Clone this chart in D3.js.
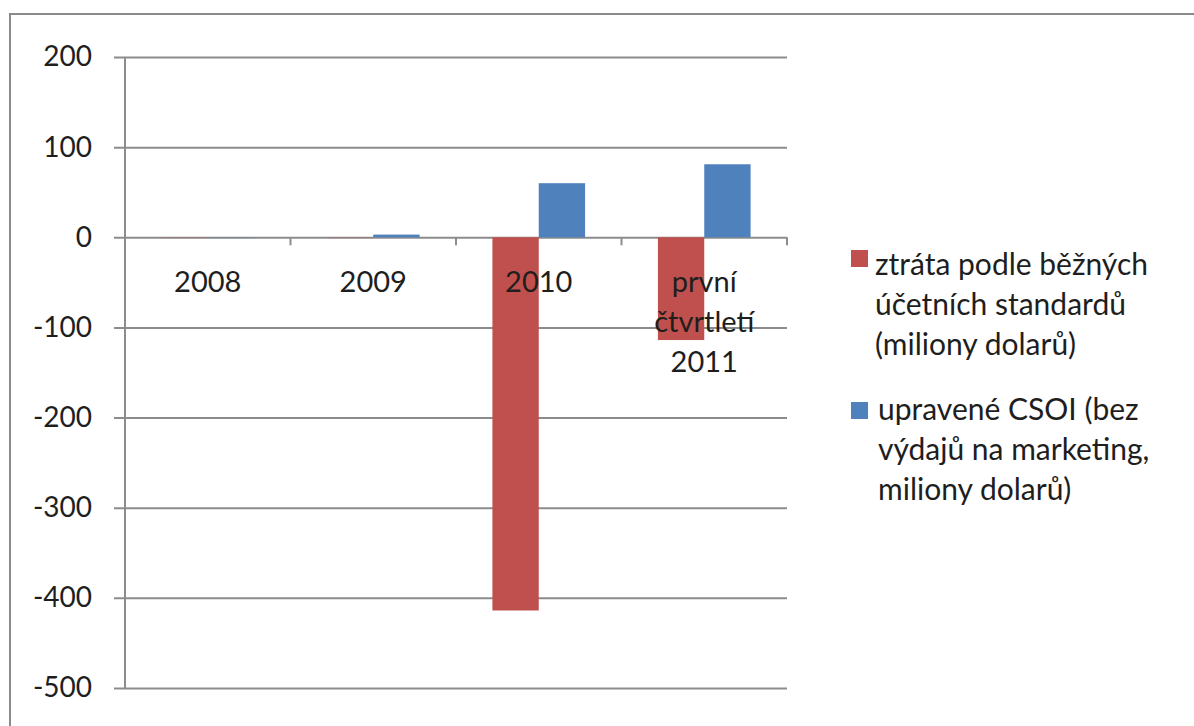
<!DOCTYPE html>
<html>
<head>
<meta charset="utf-8">
<script src="https://cdn.jsdelivr.net/npm/d3@7"></script>
<style>
  body { margin: 0; background: #fff; }
  svg text { font-family: Lato, "Open Sans", sans-serif; fill: #1e1e1e; }
</style>
</head>
<body>
<svg></svg>
<script>
const svgWidth = 1194
const svgHeight = 726
const margins = {top: 57, left: 125}
const plotWidth = 787 - margins.left
const plotHeight = 688 - margins.top

// data
const categories = ["2008", "2009", "2010", "první\nčtvrtletí\n2011"]
const lossValues = [-1, -1, -414, -114]
const csoiValues = [-1, 3, 60, 81]
const seriesNames = [
  "ztráta podle běžných\núčetních standardů\n(miliony dolarů)",
  "upravené CSOI (bez\nvýdajů na marketing,\nmiliony dolarů)"
]
const seriesColors = ["#c0504d", "#4f81bd"]
const yTicks = [200, 100, 0, -100, -200, -300, -400, -500]

const svg = d3.select("svg")
  .attr("width", svgWidth)
  .attr("height", svgHeight)

// frame
svg.append("path")
  .attr("d", `M10,${svgHeight} V14 H${svgWidth}`)
  .attr("fill", "none")
  .attr("stroke", "#8a8a8a")
  .attr("stroke-width", 2)

const xScale = d3.scaleBand()
  .domain(categories)
  .range([0, plotWidth])
const xInner = d3.scaleBand()
  .domain([0, 1])
  .range([xScale.bandwidth() * 0.22, xScale.bandwidth() * 0.78])
const yScale = d3.scaleLinear()
  .domain([-500, 200])
  .range([plotHeight, 0])

const plot = svg.append("g")
  .attr("transform", `translate(${margins.left},${margins.top})`)

// gridlines + y labels
const yAxis = plot.append("g")
  .call(d3.axisLeft(yScale).tickValues(yTicks).tickSize(-plotWidth - 11).tickPadding(22).tickFormat((d) => String(d)))
  .attr("transform", "translate(-11,0)")
yAxis.select(".domain").remove()
yAxis.selectAll(".tick line").attr("stroke", "#8c8c8c").attr("stroke-width", 2)
yAxis.selectAll(".tick text").attr("font-size", 28).attr("fill", "#1e1e1e")
  .style("font-family", "Lato, sans-serif")

// vertical axis line
plot.append("line")
  .attr("x1", 0).attr("x2", 0)
  .attr("y1", 0).attr("y2", plotHeight)
  .attr("stroke", "#8c8c8c").attr("stroke-width", 2)

const allSeries = [lossValues, csoiValues]
allSeries.forEach((vals, i) => {
  plot.selectAll(".bar" + i)
    .data(vals)
    .enter()
    .append("rect")
    .attr("x", (d, j) => xScale(categories[j]) + xInner(i))
    .attr("y", (d) => yScale(Math.max(0, d)))
    .attr("width", xInner.bandwidth())
    .attr("height", (d) => Math.abs(yScale(d) - yScale(0)))
    .attr("fill", seriesColors[i])
    .attr("fill-opacity", (d) => Math.abs(d) < 2 ? 0.25 : 1)
})

// category axis on zero
const xAxis = plot.append("g")
  .attr("transform", `translate(0,${yScale(0)})`)
xAxis.selectAll("line.tk")
  .data(categories.concat(["end"]))
  .enter()
  .append("line")
  .attr("x1", (d, j) => j * xScale.step())
  .attr("x2", (d, j) => j * xScale.step())
  .attr("y1", 0).attr("y2", 8)
  .attr("stroke", "#8c8c8c").attr("stroke-width", 2)

categories.forEach((c) => {
  const t = xAxis.append("text")
    .attr("text-anchor", "middle")
    .attr("font-size", 29)
    .attr("y", 55)
  c.split("\n").forEach((line, k) => {
    t.append("tspan")
      .attr("x", xScale(c) + xScale.bandwidth() / 2)
      .attr("dy", k === 0 ? 0 : 40)
      .text(line)
  })
})

// legend
const legend = svg.append("g")
legend.selectAll("rect")
  .data(seriesNames)
  .enter()
  .append("rect")
  .attr("x", 851)
  .attr("y", (d, i) => 250 + i * 152)
  .attr("width", 17)
  .attr("height", 17)
  .attr("fill", (d, i) => seriesColors[i])
seriesNames.forEach((name, i) => {
  const t = legend.append("text")
    .attr("font-size", 30)
    .attr("y", 275 + i * 145)
  name.split("\n").forEach((line, k) => {
    t.append("tspan")
      .attr("x", i === 0 ? 875 : 878)
      .attr("dy", k === 0 ? 0 : 40)
      .text(line)
  })
})
</script>
</body>
</html>
